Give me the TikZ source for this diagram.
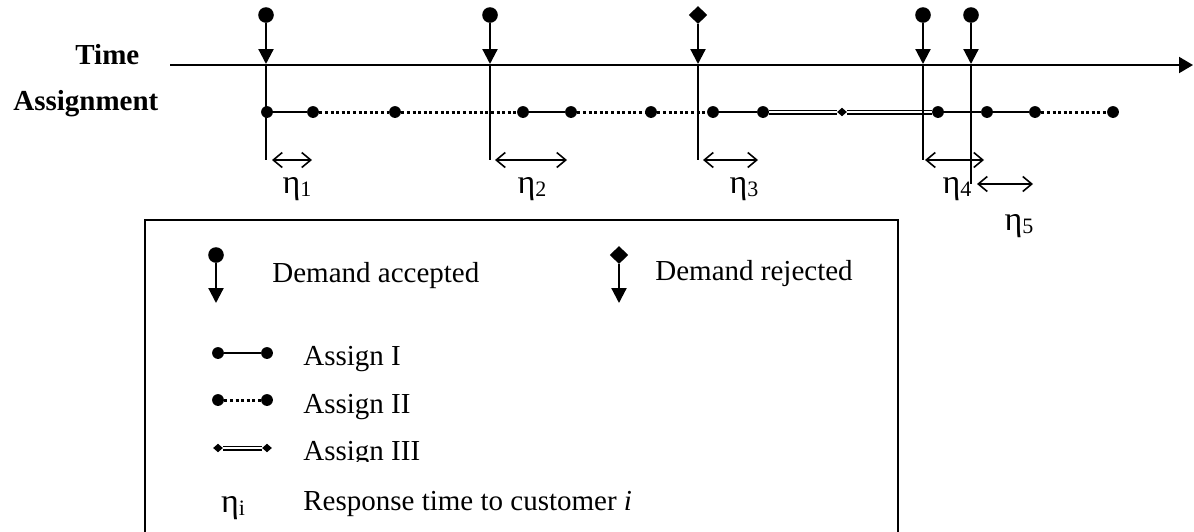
\documentclass[tikz,border=0pt]{standalone}
\usepackage{fontspec}
\setmainfont{Liberation Serif}
\usetikzlibrary{arrows.meta,shapes.geometric}

% eta with a small lowered index
\newcommand\etaidx[1]{{\fontsize{17}{18}\selectfont η}\raisebox{-0.12em}{\fontsize{11}{12}\selectfont #1}}

\begin{document}
\begin{tikzpicture}[x=0.5pt,y=-0.5pt,
  every node/.style={font=\fontsize{14.5}{17}\selectfont},
  bigdot/.style={circle,fill,inner sep=0,minimum size=7.8pt},
  rejdot/.style={diamond,fill,inner sep=0,minimum width=9.4pt,minimum height=9pt},
  pt/.style={circle,fill,inner sep=0,minimum size=5.9pt},
  smalldia/.style={diamond,fill,inner sep=0,minimum width=5pt,minimum height=4.4pt},
  axis/.style={line width=1pt,-{Triangle[length=7pt,width=8pt]}},
  demand/.style={line width=1.1pt,-{Triangle[length=7.5pt,width=7.5pt]}},
  stem/.style={line width=1.1pt},
  asgA/.style={line width=1.25pt},
  asgB/.style={line width=1.5pt,dash pattern=on 1.5pt off 1.3pt},
  asgC/.style={double,line width=0.75pt,double distance=1pt},
  resp/.style={line width=0.8pt,{Straight Barb[length=4.5pt,width=7.5pt]}-{Straight Barb[length=4.5pt,width=7.5pt]}},
  lbl/.style={anchor=base west,inner sep=0},
  eta/.style={anchor=base,inner sep=0},
]
\clip (0,0) rectangle (1194,531);

% time axis
\coordinate (t0) at (170,65);
\coordinate (t1) at (1193,65);
\draw[axis] (t0) -- (t1);
\node[lbl,font=\fontsize{14.5}{17}\selectfont\bfseries] (timelbl) at (75,64) {Time};
\node[lbl,font=\fontsize{14.5}{17}\selectfont\bfseries] (asglbl) at (13,110) {Assignment};

% assignment points
\foreach \n/\x in {1/267,2/313,3/395,4/523,5/571,6/651,7/713,8/763,10/938,11/987,12/1035,13/1113}
  \node[pt] (p\n) at (\x,112) {};
\node[smalldia] (p9) at (842,112) {};

% assignment segments
\draw[asgA] (p1) -- (p2);
\draw[asgB] (p2) -- (p3);
\draw[asgB] (p3) -- (p4);
\draw[asgA] (p4) -- (p5);
\draw[asgB] (p5) -- (p6);
\draw[asgB] (p6) -- (p7);
\draw[asgA] (p7) -- (p8);
\draw[asgC] (p8) -- (p9);
\draw[asgC] (p9) -- (p10);
\draw[asgA] (p10) -- (p11);
\draw[asgA] (p11) -- (p12);
\draw[asgB] (p12) -- (p13);

% demands arriving on the time axis
\foreach \n/\x in {1/266,2/490,4/923,5/971}
  \node[bigdot] (d\n) at (\x,15) {};
\node[rejdot] (d3) at (698,15) {};
\foreach \n/\x/\f in {1/266/160,2/490/160,3/698/160,4/923/160,5/971/184}{
  \coordinate (a\n) at (\x,64);
  \coordinate (f\n) at (\x,\f);
  \draw[demand] (d\n) -- (a\n);
  \draw[stem] (a\n) -- (f\n);
}

% response times
\foreach \n/\xa/\xb/\y in {1/272/312/160,2/495/567/160,3/703/758/160,4/925/984/160,5/977/1033/184}{
  \coordinate (ra\n) at (\xa,\y);
  \coordinate (rb\n) at (\xb,\y);
  \draw[resp] (ra\n) -- (rb\n);
}
\node[eta] (e1) at (297,193) {\etaidx{1}};
\node[eta] (e2) at (532,193) {\etaidx{2}};
\node[eta] (e3) at (744,193) {\etaidx{3}};
\node[eta] (e4) at (957,193) {\etaidx{4}};
\node[eta] (e5) at (1019,230) {\etaidx{5}};

% legend
\draw[line width=0.9pt] (145,220) rectangle (898,560);

\node[bigdot] (lacc) at (216,255) {};
\coordinate (lacc2) at (216,303);
\draw[demand] (lacc) -- (lacc2);
\node[lbl] (tacc) at (272,282) {Demand accepted};

\node[rejdot] (lrej) at (619,255) {};
\coordinate (lrej2) at (619,303);
\draw[demand] (lrej) -- (lrej2);
\node[lbl] (trej) at (655,280) {Demand rejected};

\node[pt] (l1a) at (218,353) {};
\node[pt] (l1b) at (267,353) {};
\draw[asgA] (l1a) -- (l1b);
\node[lbl] (t1lbl) at (303,365) {Assign I};

\node[pt] (l2a) at (218,400) {};
\node[pt] (l2b) at (267,400) {};
\draw[asgB] (l2a) -- (l2b);
\node[lbl] (t2lbl) at (303,413) {Assign II};

\node[smalldia] (l3a) at (218,448) {};
\node[smalldia] (l3b) at (267,448) {};
\draw[asgC] (l3a) -- (l3b);
\begin{scope}
  \clip (290,410) rectangle (520,461);
  \node[lbl] (t3lbl) at (303,460) {Assign III};
\end{scope}

\node[eta] (leta) at (233,512) {\etaidx{i}};
\node[lbl] (tresp) at (303,510) {Response time to customer \textit{i}};
\end{tikzpicture}
\end{document}
